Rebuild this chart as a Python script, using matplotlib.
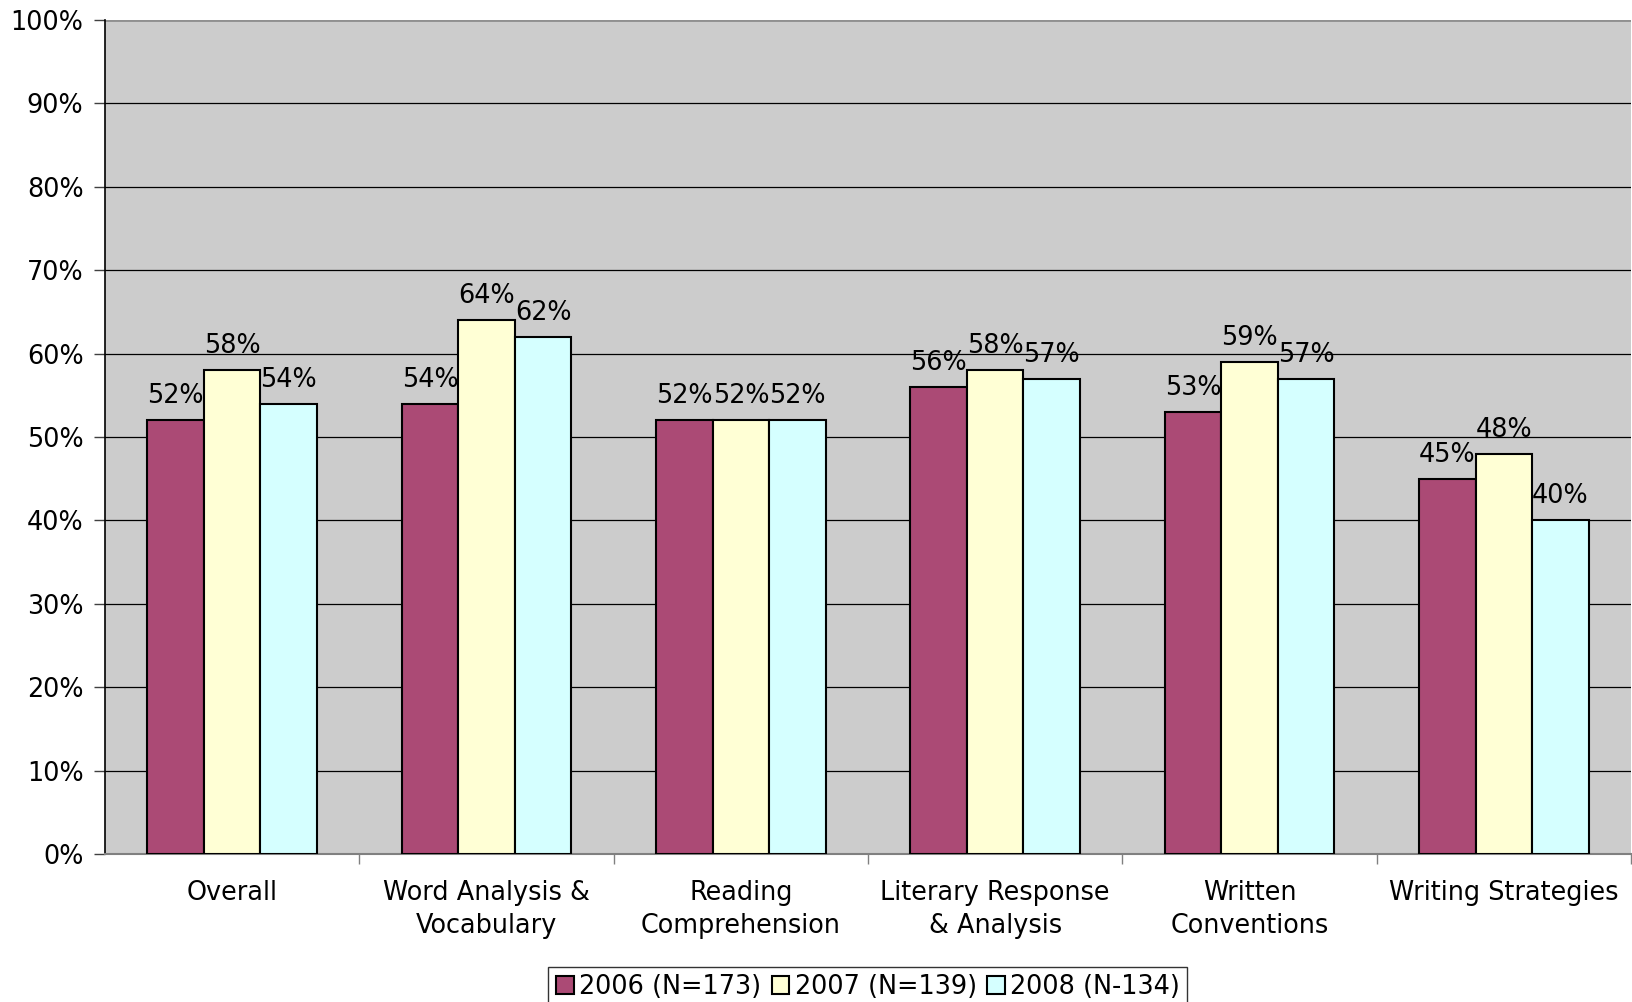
import numpy as np
import matplotlib.pyplot as plt

categories = ["Overall", "Word Analysis &\nVocabulary", "Reading\nComprehension",
              "Literary Response\n& Analysis", "Written\nConventions", "Writing Strategies"]
series_names = ["2006 (N=173)", "2007 (N=139)", "2008 (N-134)"]
pct_2006 = [52, 54, 52, 56, 53, 45]
pct_2007 = [58, 64, 52, 58, 59, 48]
pct_2008 = [54, 62, 52, 57, 57, 40]
colors = ["#AB4A75", "#FFFFD5", "#D5FFFF"]

plt.rcParams["font.family"] = "DejaVu Sans"
fs = 18.4

fig = plt.figure(figsize=(16.33, 10.02), dpi=100)
ax = fig.add_axes([0.0643, 0.1477, 0.9345, 0.8323])
ax.set_facecolor("#CCCCCC")

x = np.arange(len(categories))
width = 1 / 4.5
handles = []
for i, (vals, col, name) in enumerate(zip([pct_2006, pct_2007, pct_2008], colors, series_names)):
    pos = x + (i - 1) * width
    bars = ax.bar(pos, vals, width, color=col, edgecolor="black", linewidth=1.5,
                  label=name, zorder=3)
    handles.append(bars)
    for xp, v in zip(pos, vals):
        ax.annotate(f"{v}%", (xp, v), xytext=(0, 8), textcoords="offset points",
                    ha="center", va="bottom", fontsize=fs, zorder=4)

ax.set_xlim(-0.5, len(categories) - 0.5)
ax.set_ylim(0, 100)
ax.set_yticks(range(0, 101, 10))
ax.set_yticklabels([f"{t}%" for t in range(0, 101, 10)], fontsize=fs)
ax.yaxis.grid(True, color="black", linewidth=0.9, zorder=1)
ax.set_axisbelow(True)

ax.set_xticks(x)
ax.set_xticklabels(categories, fontsize=fs, linespacing=1.35)
ax.set_xticks(np.arange(0.5, len(categories) - 0.5 + 0.01, 1), minor=True)
ax.tick_params(axis="x", which="major", length=0, pad=18.5)
ax.tick_params(axis="x", which="minor", length=7, color="#808080", width=1)
ax.tick_params(axis="y", length=8, color="#404040", width=1, pad=7.5)

for s in ["top", "right"]:
    ax.spines[s].set_visible(False)
ax.spines["left"].set_color("black")
ax.spines["left"].set_linewidth(1.2)
ax.spines["bottom"].set_color("#808080")
ax.spines["bottom"].set_linewidth(1.5)
ax.axhline(100, color="#909090", linewidth=2, zorder=2)

leg = fig.legend(handles=handles, loc="lower center", bbox_to_anchor=(0.5315, -0.006),
                 ncol=3, fontsize=fs, frameon=True, fancybox=False,
                 handlelength=0.7, handleheight=0.7, handletextpad=0.2,
                 columnspacing=0.4, borderpad=0.3, borderaxespad=0)
leg.get_frame().set_edgecolor("black")
leg.get_frame().set_linewidth(1.0)

fig.savefig("out.png", dpi=100)
